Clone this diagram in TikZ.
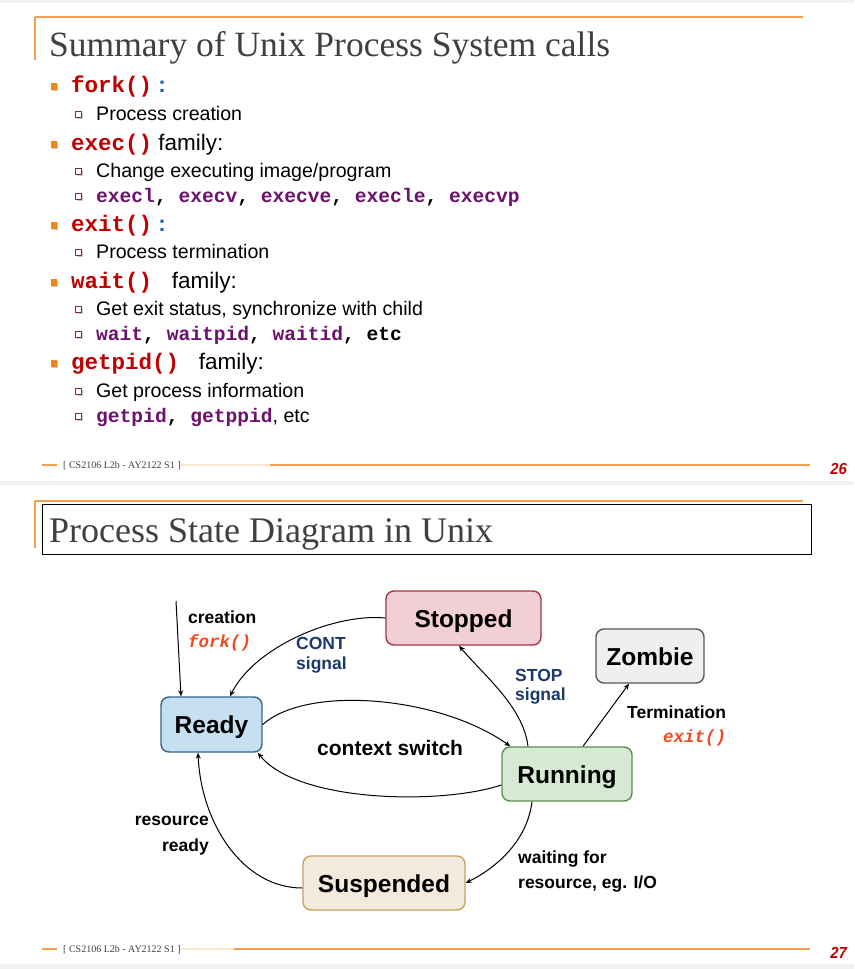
\documentclass[tikz,border=0pt]{standalone}
\usepackage{fontspec}
\setmainfont{Liberation Sans}
\newfontfamily\seriffam{Liberation Serif}
\newfontfamily\monofam{Liberation Mono}
\usetikzlibrary{arrows.meta}
\newcommand\setfs[1]{\fontsize{#1}{#1}\selectfont}
\definecolor{bandgrey}{HTML}{F1F1F1}
\definecolor{olinec}{HTML}{F2A04E}
\definecolor{fadec}{HTML}{FBE6D2}
\definecolor{titlegrey}{HTML}{404040}
\definecolor{codered}{HTML}{C00000}
\definecolor{codepurple}{HTML}{6E106E}
\definecolor{colonblue}{HTML}{1F5FBF}
\definecolor{bulorange}{HTML}{F0861E}
\definecolor{subbulc}{HTML}{8B2A2A}
\definecolor{pagered}{HTML}{C00000}
\definecolor{navy}{HTML}{1B3A6B}
\definecolor{forkorange}{HTML}{F04A1E}
\definecolor{stopfill}{HTML}{F2CFD5}
\definecolor{stopdraw}{HTML}{A8323E}
\definecolor{zombfill}{HTML}{EFEFEF}
\definecolor{zombdraw}{HTML}{595959}
\definecolor{readyfill}{HTML}{C6E0F2}
\definecolor{readydraw}{HTML}{33668C}
\definecolor{runfill}{HTML}{D6EAD3}
\definecolor{rundraw}{HTML}{5B9150}
\definecolor{suspfill}{HTML}{F3E9DC}
\definecolor{suspdraw}{HTML}{C9A062}
\newcommand\cred[1]{\textcolor{codered}{\monofam\bfseries #1}}
\newcommand\cpur[1]{\textcolor{codepurple}{\monofam\bfseries #1}}
\newcommand\cblk[1]{{\monofam\bfseries #1}}
\begin{document}
\begin{tikzpicture}[x=1pt,y=-1pt,
  txt/.style={anchor=base west, inner sep=0pt},
  maintxt/.style={txt, font=\setfs{22.5}},
  subtxt/.style={txt, font=\setfs{19.6}},
  oline/.style={draw=olinec, line width=1.5pt},
  fadeline/.style={draw=fadec, line width=1.5pt},
  titletxt/.style={txt, font=\seriffam\setfs{36}, text=titlegrey},
  foottxt/.style={txt, font=\seriffam\setfs{10}, text=titlegrey},
  pagenum/.style={anchor=base east, inner sep=0pt, font=\setfs{16}\bfseries\itshape, text=pagered, xscale=0.93},
  state/.style={draw, rounded corners=8pt, line width=1.4pt, minimum height=54pt, inner sep=0pt, text height=18.5pt, text depth=0pt, font=\setfs{24.5}\bfseries},
  lab/.style={anchor=base west, inner sep=0pt, font=\setfs{17.5}\bfseries},
  labr/.style={anchor=base east, inner sep=0pt, font=\setfs{17.5}\bfseries},
  conn/.style={-{Stealth[length=6pt,width=5pt]}, line width=1pt},
  mainbul/.style={fill=bulorange},
  subbul/.style={draw=subbulc, fill=white, line width=0.8pt}
]
\useasboundingbox (0,0) rectangle (854,969);
\fill[bandgrey] (0,0) rectangle (854,969);
\fill[white] (0,3) rectangle (854,481);
\fill[white] (0,485) rectangle (854,964);

% ---------- Slide 26 ----------
\draw[oline] (35,17) -- (803,17);
\draw[oline] (35,17) -- (35,60);
\node[titletxt, font=\seriffam\setfs{35.5}] (t1) at (49,56) {Summary of Unix Process System calls};

% main bullets
\foreach \b in {92,150,231,288,369}{
  \fill[gray!45] (52,\b-8) rectangle (58,\b-1);
  \fill[mainbul] (51,\b-9) rectangle (57,\b-2);
}
% sub bullets
\foreach \b in {120,177,202,258,315,340,397,422}{
  \fill[gray!40] (76.5,\b-7.5) rectangle (82.5,\b-1.5);
  \draw[subbul] (75.5,\b-8.5) rectangle (81.5,\b-2.5);
}
\node[maintxt] (m1) at (71,92) {\cred{fork()}\textcolor{colonblue}{\bfseries\ :}};
\node[subtxt] (s1) at (96,120) {Process creation};
\node[maintxt] (m2) at (71,150) {\cred{exec()} family:};
\node[subtxt] (s2) at (96,177) {Change executing image/program};
\node[subtxt] (s3) at (96,202) {\cpur{execl}\cblk{, }\cpur{execv}\cblk{, }\cpur{execve}\cblk{, }\cpur{execle}\cblk{, }\cpur{execvp}};
\node[maintxt] (m3) at (71,231) {\cred{exit()}\textcolor{colonblue}{\bfseries\ :}};
\node[subtxt] (s4) at (96,258) {Process termination};
\node[maintxt] (m4) at (71,288) {\cred{wait()\ }\ family:};
\node[subtxt] (s5) at (96,315) {Get exit status, synchronize with child};
\node[subtxt] (s6) at (96,340) {\cpur{wait}\cblk{, }\cpur{waitpid}\cblk{, }\cpur{waitid}\cblk{, etc}};
\node[maintxt] (m5) at (71,369) {\cred{getpid()\ }\ family:};
\node[subtxt] (s7) at (96,397) {Get process information};
\node[subtxt] (s8) at (96,422) {\cpur{getpid}\cblk{, }\cpur{getppid}, etc};

% footer 26
\draw[oline] (42,465) -- (57,465);
\node[foottxt] (f1) at (63,468.5) {[ CS2106 L2b - AY2122 S1 ]};
\draw[fadeline] (181,465) -- (270,465);
\draw[oline] (270,465) -- (810,465);
\node[pagenum] (p1) at (847,474) {26};

% ---------- Slide 27 ----------
\draw[oline] (35,501) -- (803,501);
\draw[oline] (35,501) -- (35,548);
\draw[line width=0.8pt] (42,504) rectangle (811,554);
\node[titletxt] (t2) at (49,542) {Process State Diagram in Unix};

% states
\node[state, fill=stopfill, draw=stopdraw, minimum width=155pt] (stopped) at (463.5,618) {Stopped};
\node[state, fill=zombfill, draw=zombdraw, minimum width=108pt] (zombie) at (650,656) {Zombie};
\node[state, fill=readyfill, draw=readydraw, minimum width=101pt, minimum height=55pt] (ready) at (211.5,724.5) {Ready};
\node[state, fill=runfill, draw=rundraw, minimum width=130pt] (running) at (567,774) {Running};
\node[state, fill=suspfill, draw=suspdraw, minimum width=162pt] (suspended) at (384,883) {Suspended};

% connectors
\coordinate (cstart) at (176,601);
\draw[conn] (cstart) -- ([xshift=-30.5pt]ready.north);
\draw[conn] (stopped.west) .. controls +(-50,-5) and +(25,-50) .. ([xshift=18.5pt]ready.north);
\draw[conn] (ready.east) .. controls +(45,-40) and +(-70,-50) .. ([xshift=9pt]running.north west);
\draw[conn] ([yshift=-11pt]running.west) .. controls +(-60,20) and +(40,50) .. ([xshift=-5pt]ready.south east);
\draw[conn] ([xshift=-39pt]running.north) .. controls +(-5,-40) and +(25,30) .. ([xshift=-4.5pt]stopped.south);
\draw[conn] ([xshift=16pt]running.north) -- ([xshift=-21pt]zombie.south);
\draw[conn] ([xshift=-35pt]running.south) .. controls +(-5,40) and +(30,-15) .. (suspended.east);
\draw[conn] ([yshift=-5pt]suspended.west) .. controls +(-60,0) and +(3,70) .. ([xshift=-13.5pt]ready.south);

% labels
\node[lab] (lcre) at (188,623) {creation};
\node[lab, font=\setfs{17.5}\monofam\bfseries\itshape, text=forkorange] (lfork) at (188,647) {fork()};
\node[lab, text=navy] (lcont) at (296,649) {CONT};
\node[lab, text=navy] (lcsig) at (296,669.5) {signal};
\node[lab, text=navy] (lstop) at (515,681) {STOP};
\node[lab, text=navy] (lssig) at (515,700.5) {signal};
\node[lab] (lterm) at (627,718) {Termination};
\node[lab, font=\setfs{17.5}\monofam\bfseries\itshape, text=forkorange] (lexit) at (663,742) {exit()};
\node[lab, font=\setfs{21}\bfseries] (lctx) at (317,755) {context switch};
\node[labr] (lres1) at (209,825) {resource};
\node[labr] (lres2) at (209,851) {ready};
\node[lab] (lwait1) at (518,863) {waiting for};
\node[lab] (lwait2) at (518,888) {resource, eg. I/O};

% footer 27
\draw[oline] (42,949) -- (57,949);
\node[foottxt] (f2) at (63,952.5) {[ CS2106 L2b - AY2122 S1 ]};
\draw[fadeline] (181,949) -- (234,949);
\draw[oline] (234,949) -- (810,949);
\node[pagenum] (p2) at (847,958) {27};
\end{tikzpicture}
\end{document}
